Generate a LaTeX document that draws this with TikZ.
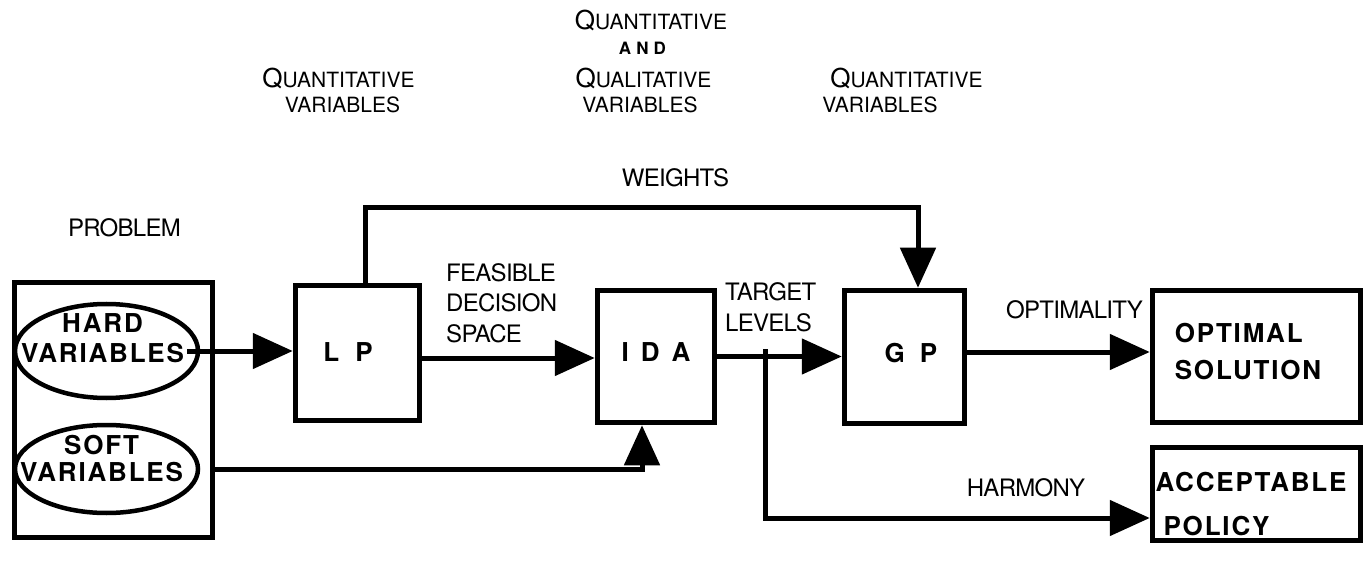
\documentclass[tikz,border=0pt]{standalone}
\usepackage{fontspec}
\setmainfont{TeX Gyre Heros}
\newfontfamily\lblfont[LetterSpace=-3]{TeX Gyre Heros}
\newfontfamily\bxfont[LetterSpace=7]{TeX Gyre Heros}
\newfontfamily\andfont[LetterSpace=30]{TeX Gyre Heros}
\usetikzlibrary{arrows.meta,shapes.geometric}
\newcommand\bigQ[1]{{\fontsize{26}{26}\selectfont #1}}
\begin{document}
\begin{tikzpicture}[x=1pt,y=-1pt,
  box/.style={draw, line width=5.5pt, inner sep=0pt, fill=white},
  bt/.style={font=\bxfont\bfseries\fontsize{26}{26}\selectfont, inner sep=0pt, align=left},
  ell/.style={draw, ellipse, line width=4.5pt, inner sep=0pt},
  conn/.style={line width=5pt},
  tip/.style={-{Triangle[length=40pt,width=35pt]}},
  lbl/.style={font=\lblfont\fontsize{24}{30.5}\selectfont, inner sep=0pt, align=left},
  top/.style={font=\fontsize{21}{21}\selectfont, inner sep=0pt, anchor=base}]
\useasboundingbox (0,0) rectangle (1369,572);

% boxes
\node[box, minimum width=198pt, minimum height=255pt] (prob) at (113.5,410) {};
\node[ell, minimum width=183pt, minimum height=94pt,
  label={[bt,align=center,xshift=-4pt,yshift=13pt]center:HARD\\[4pt]VARIABLES}] (hard) at (106.5,351) {};
\node[ell, minimum width=183pt, minimum height=88pt,
  label={[bt,align=center,xshift=-5pt,yshift=10.5pt]center:SOFT\\[1pt]VARIABLES}] (soft) at (106.5,469) {};

\node[box, minimum width=124pt, minimum height=135pt,
  label={[bt,xshift=-9.5pt,yshift=1pt]center:L\hspace{16pt}P}] (LP) at (357.5,353) {};
\node[box, minimum width=117pt, minimum height=132pt,
  label={[bt,xshift=0pt,yshift=4.5pt]center:I\hspace{12pt}D\hspace{12pt}A}] (IDA) at (656,356.5) {};
\node[box, minimum width=120pt, minimum height=133pt,
  label={[bt,xshift=6.5pt,yshift=4pt]center:G\hspace{15pt}P}] (GP) at (904.5,357) {};
\node[box, minimum width=208pt, minimum height=132pt,
  label={[bt,xshift=-8.5pt,yshift=5pt]center:OPTIMAL\\[11pt]SOLUTION}] (opt) at (1256.5,356.5) {};
\node[box, minimum width=208pt, minimum height=93pt,
  label={[bt,xshift=-5.5pt,yshift=-10pt]center:ACCEPTABLE\\[18pt]\hspace*{8pt}POLICY}] (acc) at (1256.5,494) {};

% connectors
\coordinate (hs) at ([xshift=-13pt]hard.east);
\draw[conn,tip] (hs) -- (hs -| LP.west);
\draw[conn,tip] (prob.east |- soft) -| ([xshift=-14pt]IDA.south);
\draw[conn,tip] ([yshift=-5pt]LP.east) -- ([yshift=-5pt]LP.east -| IDA.west);
\draw[conn,tip] (IDA.east) -- (IDA.east -| GP.west);
\draw[conn,tip] ([yshift=5pt]GP.east) -- ([yshift=5pt]GP.east -| opt.west);
\coordinate (br) at (765,349);
\draw[conn,tip] (br) |- ([yshift=-24pt]acc.west);
\coordinate (wt) at (918,208);
\draw[conn,tip] ([xshift=7.5pt]LP.north) |- (wt) -- (wt |- GP.north);

% labels
\node[lbl] (problbl) at (124.5,228) {PROBLEM};
\node[lbl] (wlbl) at (675.5,178) {WEIGHTS};
\node[lbl, anchor=west] (flbl) at (446,303) {FEASIBLE\\DECISION\\SPACE};
\node[lbl, anchor=west] (tlbl) at (725,307.5) {TARGET\\LEVELS};
\node[lbl, anchor=east] (olbl) at (1143,310) {OPTIMALITY};
\node[lbl] (hlbl) at (1026,488) {HARMONY};

% top labels
\node[top] (q1a) at (338.5,88) {\bigQ{Q}UANTITATIVE};
\node[top] (q1b) at (342.5,113) {VARIABLES};
\node[top] (q2a) at (651,30) {\bigQ{Q}UANTITATIVE};
\node[top, font=\andfont\bfseries\fontsize{17}{17}\selectfont] (q2b) at (642.5,55) {AND};
\node[top] (q2c) at (643.5,88) {\bigQ{Q}UALITATIVE};
\node[top] (q2d) at (640,113) {VARIABLES};
\node[top] (q3a) at (906.5,88) {\bigQ{Q}UANTITATIVE};
\node[top] (q3b) at (880,113) {VARIABLES};
\end{tikzpicture}
\end{document}
